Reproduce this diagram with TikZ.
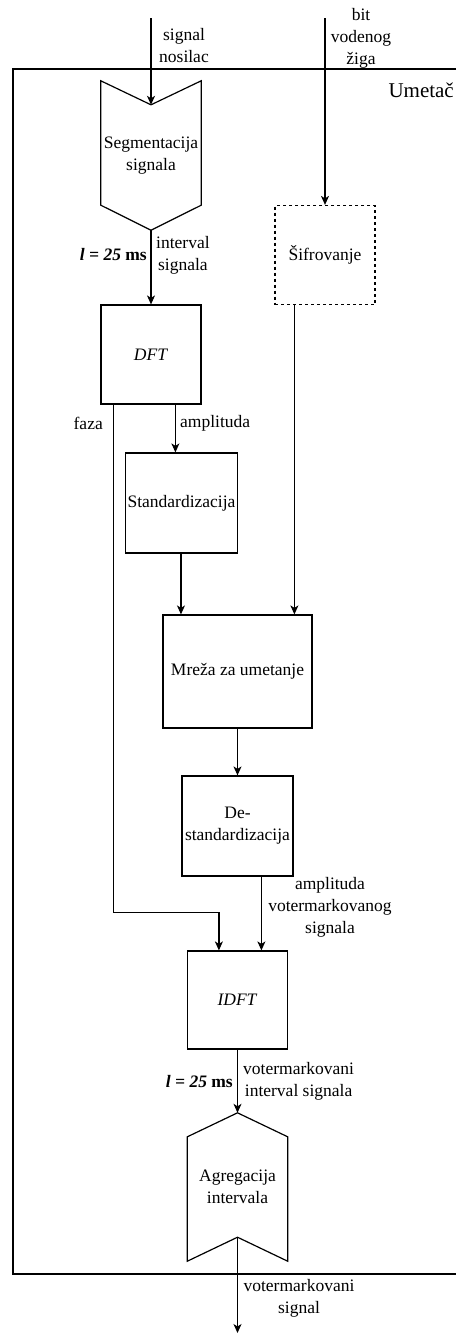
\documentclass[tikz,border=0pt]{standalone}
\usepackage{fontspec}
\setmainfont{Liberation Serif}
\usepackage{tikz}
\usetikzlibrary{calc}
\usetikzlibrary{arrows.meta}
\usetikzlibrary{positioning}
\tikzset{>={Stealth[length=9pt, width=8pt, inset=2.5pt]}}
\tikzstyle{blok} = [draw, line width=1.2pt, inner sep=2pt, align=center, minimum width=100pt, minimum height=99pt]
\tikzstyle{chev} = [draw=none, inner sep=0pt, align=center, minimum width=100pt, minimum height=149pt]
\tikzstyle{lbl} = [draw=none, inner sep=1pt, align=center]
\tikzstyle{veza} = [->, line width=1.2pt]

\begin{document}
\begin{tikzpicture}[x=1pt, y=1pt, font=\fontsize{17.5pt}{22pt}\selectfont]
\useasboundingbox (0, 0) rectangle (456, -1334);
% okvir umetaca
\draw [line width=1.2pt] (456, -69) -- (13, -69) -- (13, -1274) -- (456, -1274);
\node [lbl, anchor=east, font=\fontsize{21pt}{25pt}\selectfont] (Ume) at (455, -90) {Umetač};

\node [chev] (Seg) at (151, -155.5) {Segmentacija\\signala};
\draw [line width=1.2pt] (Seg.north west) -- ([yshift=-24pt]Seg.north) -- (Seg.north east) -- ([yshift=25pt]Seg.south east) -- (Seg.south) -- ([yshift=25pt]Seg.south west) -- cycle;
\node [blok, dash pattern=on 3pt off 3pt] (Sif) at (325, -255) {Šifrovanje};
\node [blok] (DFT) at (151, -354.5) {\textit{DFT}};
\node [blok, minimum width=111pt, minimum height=100pt] (Std) at (181.5, -503) {Standardizacija};
\node [blok, minimum width=149pt, minimum height=113pt] (Mre) at (237.5, -671.5) {Mreža za umetanje};
\node [blok, minimum width=111pt, minimum height=100pt] (Dst) at (237.5, -826) {De-\\standardizacija};
\node [blok, minimum height=98pt] (IDFT) at (237.5, -1000) {\textit{IDFT}};
\node [chev, minimum height=148pt] (Agr) at (237.5, -1187) {Agregacija\\intervala};
\draw [line width=1.2pt] (Agr.north) -- ([yshift=-24pt]Agr.north east) -- (Agr.south east) -- ([yshift=24pt]Agr.south) -- (Agr.south west) -- ([yshift=-24pt]Agr.north west) -- cycle;

\coordinate (ulaz) at (151, -18);
\coordinate (bit) at (325, -18);
\coordinate (izlaz) at (237.5, -1333);

\draw [veza] (ulaz) -- ([yshift=-24pt]Seg.north);
\node [lbl, anchor=west] (ulazlbl) at (158, -46) {signal\\nosilac};
\draw [veza] (bit) -- (Sif.north);
\node [lbl] (bitlbl) at (361, -38) {bit\\vodenog\\žiga};

\draw [veza] (Seg.south) -- (DFT.north);
\node [lbl, anchor=east] (l1) at (148, -255) {\textbf{\textit{l = 25} ms}};
\node [lbl, anchor=west] (intlbl) at (155, -255) {interval\\signala};

\draw [veza] ([xshift=20pt]Sif.south west) -- ([xshift=20pt]Sif.south west |- Mre.north);
\draw [veza] ([xshift=13pt]DFT.south west) |- ([xshift=32pt, yshift=38pt]IDFT.north west) -- ([xshift=32pt]IDFT.north west);
\node [lbl, anchor=east] (fazalbl) at (104, -423) {faza};
\draw [veza] ([xshift=75pt]DFT.south west) -- ([xshift=75pt]DFT.south west |- Std.north);
\node [lbl, anchor=west] (amplbl) at (179, -423) {amplituda};
\draw [veza] ([xshift=56pt]Std.south west) -- ([xshift=56pt]Std.south west |- Mre.north);
\draw [veza] (Mre) -- (Dst);
\draw [veza] ([xshift=80pt]Dst.south west) -- ([xshift=80pt]Dst.south west |- IDFT.north);
\node [lbl] (vamplbl) at (330, -907) {amplituda\\votermarkovanog\\signala};

\draw [veza] (IDFT.south) -- (Agr.north);
\node [lbl, anchor=east] (l2) at (234, -1081) {\textbf{\textit{l = 25} ms}};
\node [lbl, anchor=west] (vintlbl) at (242, -1081) {votermarkovani\\interval signala};
\draw [veza] ([yshift=24pt]Agr.south) -- (izlaz);
\node [lbl] (vsiglbl) at (299, -1298) {votermarkovani\\signal};
\end{tikzpicture}
\end{document}
